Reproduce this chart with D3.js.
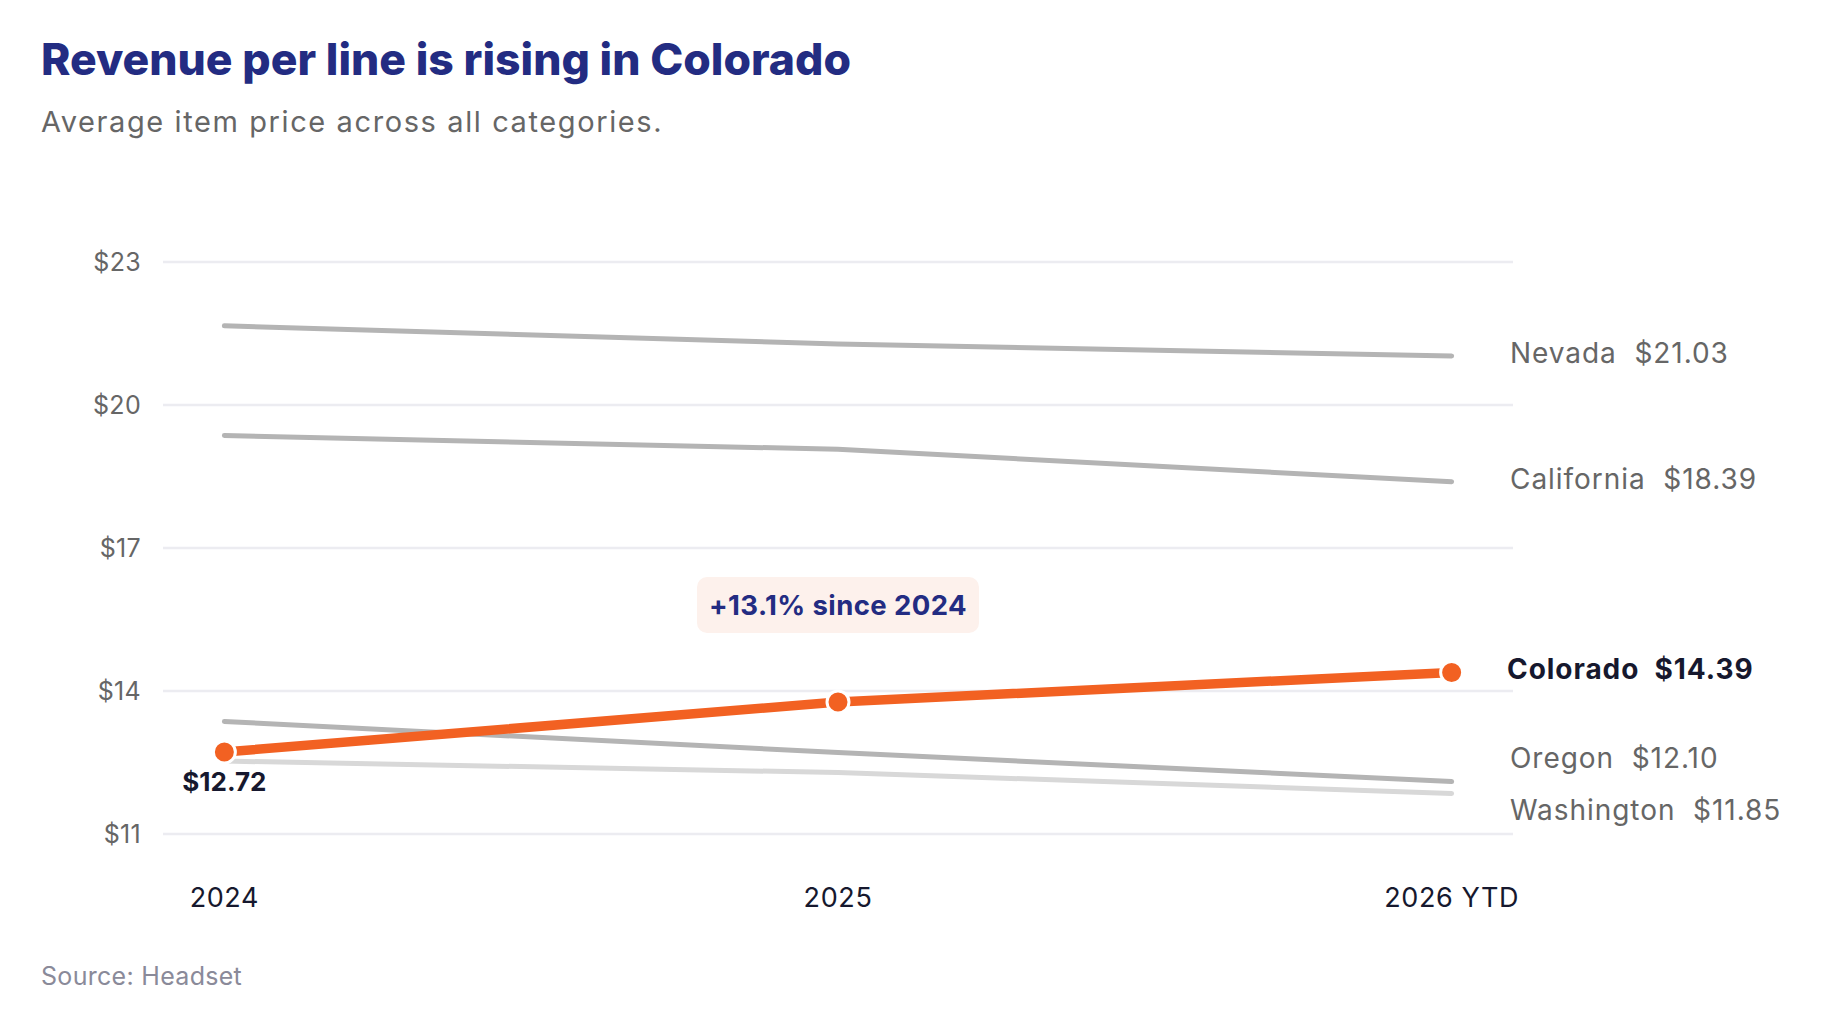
<!DOCTYPE html>
<html>
<head>
<meta charset="utf-8">
<script src="https://cdn.jsdelivr.net/npm/d3@7"></script>
<style>
  html, body { margin: 0; padding: 0; background: #fff; }
  svg { display: block; font-family: Inter, "Noto Sans", sans-serif; }
</style>
</head>
<body>
<script>
// Revenue per line by state, 2024 -> 2026 YTD

const width = 1821;
const height = 1033;

const years = ["2024", "2025", "2026 YTD"];
const yTicks = [11, 14, 17, 20, 23];

const states = ["Nevada", "California", "Colorado", "Oregon", "Washington"];
const nevada = [21.66, 21.28, 21.03];
const california = [19.36, 19.07, 18.39];
const colorado = [12.72, 13.77, 14.39];
const oregon = [13.36, 12.71, 12.10];
const washington = [12.53, 12.29, 11.85];

const series = [
    { name: "Nevada", values: nevada, color: "#b4b4b4" },
    { name: "California", values: california, color: "#b4b4b4" },
    { name: "Oregon", values: oregon, color: "#b4b4b4" },
    { name: "Washington", values: washington, color: "#d8d8d8" },
    { name: "Colorado", values: colorado, color: "#f26122", highlight: true }
];

const changeLabel = "+13.1% since 2024";

const svg = d3.select("body")
    .append("svg")
    .attr("width", width)
    .attr("height", height);

const x = d3.scalePoint()
    .domain(years)
    .range([163, 1513])
    .padding(0.1);

const y = d3.scaleLinear()
    .domain([11, 23])
    .range([834, 262]);

// Title block
svg.append("text")
    .attr("x", 41)
    .attr("y", 75)
    .attr("fill", "#232c82")
    .attr("font-size", 44.5)
    .attr("font-weight", 800)
    .text("Revenue per line is rising in Colorado");

svg.append("text")
    .attr("x", 41)
    .attr("y", 132)
    .attr("fill", "#666")
    .attr("font-size", 29)
    .attr("letter-spacing", 1.6)
    .text("Average item price across all categories.");

// Gridlines + y labels
const grid = svg.append("g");
grid.selectAll("line")
    .data(yTicks)
    .join("line")
    .attr("x1", x.range()[0])
    .attr("x2", x.range()[1])
    .attr("y1", d => y(d))
    .attr("y2", d => y(d))
    .attr("stroke", "#ececf1")
    .attr("stroke-width", 2.5);

grid.selectAll("text")
    .data(yTicks)
    .join("text")
    .attr("x", 141)
    .attr("y", d => y(d))
    .attr("dy", "0.35em")
    .attr("text-anchor", "end")
    .attr("fill", "#666")
    .attr("font-size", 25)
    .attr("letter-spacing", 0.3)
    .text(d => "$" + d);

// X labels
svg.append("g").selectAll("text")
    .data(years)
    .join("text")
    .attr("x", d => x(d))
    .attr("y", 907)
    .attr("text-anchor", "middle")
    .attr("fill", "#16182e")
    .attr("font-size", 27)
    .attr("letter-spacing", 0.6)
    .text(d => d);

// Lines
const line = d3.line()
    .x((d, i) => x(years[i]))
    .y(d => y(d));

svg.append("g").selectAll("path")
    .data(series)
    .join("path")
    .attr("d", d => line(d.values))
    .attr("fill", "none")
    .attr("stroke", d => d.color)
    .attr("stroke-width", d => d.highlight ? 9.5 : 5)
    .attr("stroke-linecap", "round")
    .attr("stroke-linejoin", "round");

// Colorado dots
svg.append("g").selectAll("circle")
    .data(colorado)
    .join("circle")
    .attr("cx", (d, i) => x(years[i]))
    .attr("cy", d => y(d))
    .attr("r", 11)
    .attr("fill", "#f26122")
    .attr("stroke", "#fff")
    .attr("stroke-width", 3);

// Start value label
svg.append("text")
    .attr("x", x(years[0]))
    .attr("y", y(colorado[0]) + 39)
    .attr("text-anchor", "middle")
    .attr("fill", "#16182e")
    .attr("font-size", 26)
    .attr("font-weight", 700)
    .text("$" + colorado[0].toFixed(2));

// Callout above 2025
const callout = svg.append("g")
    .attr("transform", `translate(${x(years[1])},${y(colorado[1]) - 97})`);
callout.append("rect")
    .attr("x", -141)
    .attr("y", -28)
    .attr("width", 282)
    .attr("height", 56)
    .attr("rx", 10)
    .attr("fill", "#fdf1ec");
callout.append("text")
    .attr("text-anchor", "middle")
    .attr("dy", "0.35em")
    .attr("fill", "#232c82")
    .attr("font-size", 27.5)
    .attr("font-weight", 700)
    .attr("letter-spacing", 0.4)
    .text(changeLabel);

// End labels, dodged so they don't collide
const minGap = 52;
const ends = series.map(s => ({ s, y: y(s.values[2]) })).sort((a, b) => a.y - b.y);
for (let iter = 0; iter < 20; iter++) {
    for (let i = 1; i < ends.length; i++) {
        const a = ends[i - 1], b = ends[i];
        const overlap = minGap - (b.y - a.y);
        if (overlap > 0) {
            a.y -= overlap / 2;
            b.y += overlap / 2;
        }
    }
}

svg.append("g").selectAll("text")
    .data(ends)
    .join("text")
    .attr("x", d => d.s.highlight ? 1507 : 1510)
    .attr("y", d => d.y - 2)
    .attr("dy", "0.32em")
    .attr("fill", d => d.s.highlight ? "#16182e" : "#666")
    .attr("font-size", 28)
    .attr("font-weight", d => d.s.highlight ? 700 : 400)
    .attr("letter-spacing", 0.95)
    .attr("xml:space", "preserve")
    .text(d => `${d.s.name}  $${d.s.values[2].toFixed(2)}`);

// Source
svg.append("text")
    .attr("x", 41)
    .attr("y", 985)
    .attr("fill", "#8a8a99")
    .attr("font-size", 25)
    .attr("letter-spacing", 0.3)
    .text("Source: Headset");
</script>
</body>
</html>
